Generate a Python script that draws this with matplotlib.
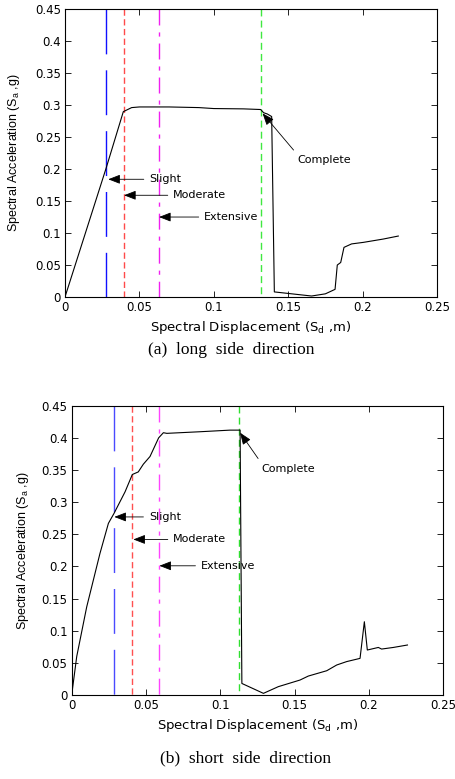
import matplotlib
matplotlib.use('Agg')
import matplotlib.pyplot as plt

plt.rcParams['font.family'] = ['DejaVu Sans']
plt.rcParams['mathtext.fontset'] = 'custom'
plt.rcParams['mathtext.rm'] = 'DejaVu Sans'

# (a) long side direction
sd_a = [0, 0.0276, 0.0392, 0.0448, 0.05, 0.07, 0.09, 0.1, 0.12, 0.1315,
        0.1335, 0.136, 0.1389, 0.1407, 0.1657, 0.175, 0.1815, 0.183, 0.1853,
        0.1875, 0.1926, 0.2005, 0.2139, 0.224]
sa_a = [0, 0.201, 0.2896, 0.296, 0.297, 0.297, 0.296, 0.2945, 0.294, 0.293,
        0.288, 0.286, 0.282, 0.008, 0.0016, 0.005, 0.012, 0.05, 0.054,
        0.0776, 0.083, 0.0854, 0.0906, 0.0953]
limits_a = [0.0276, 0.0399, 0.0634, 0.1315]
tips_a = [(0.0291, 0.184), (0.0397, 0.159), (0.0632, 0.125), (0.1328, 0.287)]
texts_a = [(0.0567, 0.184), (0.0728, 0.159), (0.0936, 0.125), (0.1564, 0.222)]

# (b) short side direction
sd_b = [0, 0.0034, 0.0101, 0.019, 0.0247, 0.0285, 0.0359, 0.0408, 0.0448,
        0.0482, 0.0527, 0.0585, 0.0617, 0.064, 0.0863, 0.1065, 0.1133, 0.1145,
        0.129, 0.139, 0.1536, 0.1592, 0.1716, 0.1783, 0.185, 0.194, 0.1969,
        0.1989, 0.2063, 0.2085, 0.2164, 0.2259]
sa_b = [0, 0.06, 0.137, 0.22, 0.267, 0.2826, 0.316, 0.343, 0.347, 0.359,
        0.371, 0.400, 0.408, 0.407, 0.4095, 0.412, 0.412, 0.018, 0.0026,
        0.013, 0.0233, 0.0295, 0.0378, 0.0467, 0.052, 0.057, 0.114, 0.070,
        0.074, 0.0715, 0.074, 0.0778]
limits_b = [0.0285, 0.0408, 0.0585, 0.1128]
tips_b = [(0.0287, 0.277), (0.0415, 0.242), (0.059, 0.201), (0.1133, 0.408)]
texts_b = [(0.052, 0.277), (0.0684, 0.242), (0.087, 0.201), (0.1278, 0.360)]

states = ['Slight', 'Moderate', 'Extensive', 'Complete']
colors_a = ['#1010ff', '#ff4a4a', '#f020f0', '#40e840']
colors_b = ['#4a4aff', '#ff5050', '#ff44ff', '#30e030']
styles = [(0, (32.3, 11.5)), (0, (4.5, 2.5)), (0, (11.5, 5, 3, 5)), (0, (5, 3))]
xticks = [0, 0.05, 0.1, 0.15, 0.2, 0.25]
yticks = [0, 0.05, 0.1, 0.15, 0.2, 0.25, 0.3, 0.35, 0.4, 0.45]

fig = plt.figure(figsize=(4.56, 7.79), dpi=100)
ax1 = fig.add_axes([0.1425, 0.6187, 0.8158, 0.3697])
ax2 = fig.add_axes([0.1572, 0.1078, 0.8149, 0.3714])


def draw(ax, sd, sa, limits, colors, tips, texts, ylab_x):
    for x, c, ls in zip(limits, colors, styles):
        ax.plot([x, x], [0.45, 0], color=c, linestyle=ls, lw=1.0)
    ax.plot(sd, sa, color='black', lw=0.8)
    for i, name in enumerate(states):
        rel = (0, 0.5) if i < 3 else (0.0, 1.0)
        va = 'center' if i < 3 else 'top'
        ax.annotate(name, xy=tips[i], xytext=texts[i], ha='left', va=va,
                    fontsize=8,
                    arrowprops=dict(arrowstyle='-|>,head_length=0.9,head_width=0.35',
                                    color='black', lw=0.6, relpos=rel,
                                    shrinkA=2, shrinkB=0))
    ax.set_xlim(0, 0.25)
    ax.set_ylim(0, 0.45)
    ax.set_xticks(xticks)
    ax.set_xticklabels(['0', '0.05', '0.1', '0.15', '0.2', '0.25'])
    ax.set_yticks(yticks)
    ax.set_yticklabels(['0', '0.05', '0.1', '0.15', '0.2', '0.25', '0.3',
                        '0.35', '0.4', '0.45'])
    ax.tick_params(direction='in', length=4, width=0.6, labelsize=8.5,
                   top=True, right=True, pad=3)
    for s in ax.spines.values():
        s.set_linewidth(0.8)
    ax.set_xlabel('Spectral Displacement (S$_\\mathregular{d}$ ,m)', fontsize=9.5)
    ax.set_ylabel('Spectral Acceleration (S$_\\mathregular{a}$ ,g)', fontsize=9,
                  va='center', family='Liberation Sans')
    ax.xaxis.set_label_coords(0.5, -0.075)
    ax.yaxis.set_label_coords(ylab_x, 0.5)


draw(ax1, sd_a, sa_a, limits_a, colors_a, tips_a, texts_a, -0.137)
draw(ax2, sd_b, sa_b, limits_b, colors_b, tips_b, texts_b, -0.131)

fig.text(231 / 456, 1 - 350 / 779, '(a)  long  side  direction', ha='center',
         va='center', fontsize=12.5, family='Liberation Serif')
fig.text(246 / 456, 1 - 758 / 779, '(b)  short  side  direction', ha='center',
         va='center', fontsize=12.5, family='Liberation Serif')

fig.savefig('out.png', dpi=100)
